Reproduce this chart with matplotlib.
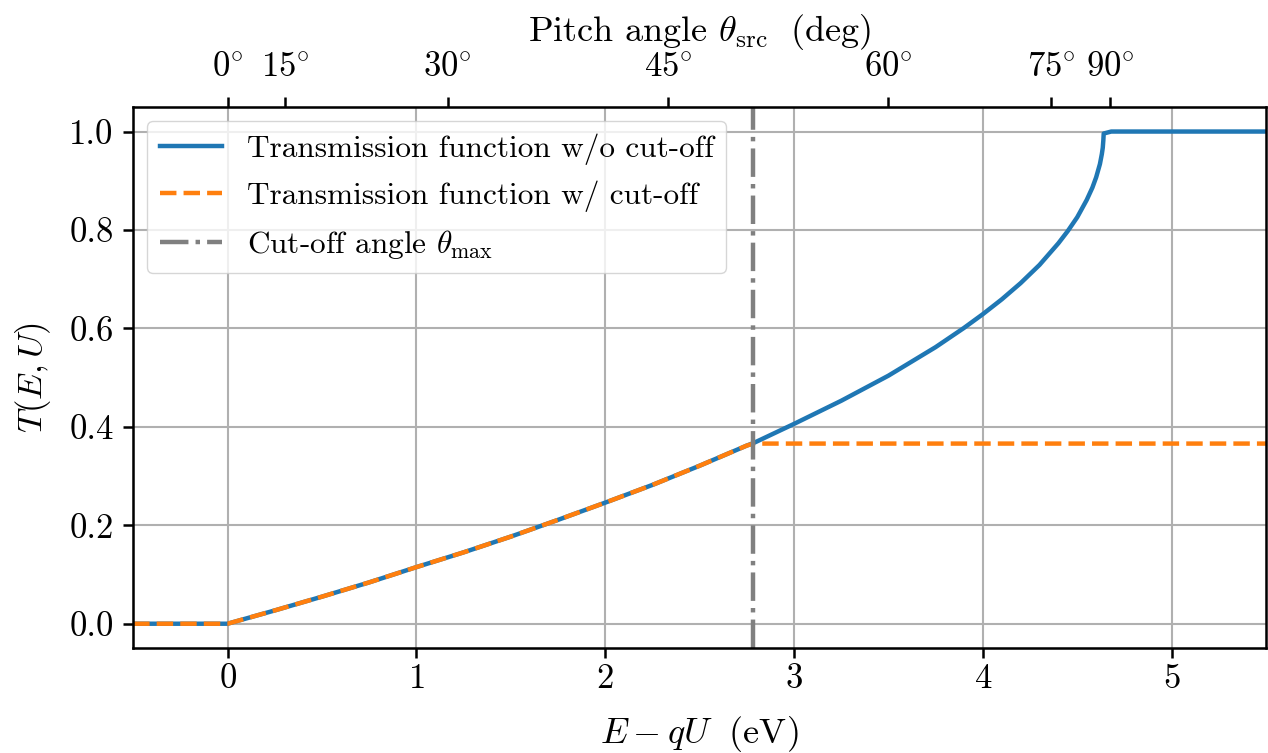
import numpy as np
import matplotlib.pyplot as plt

plt.rcParams['font.family'] = 'serif'
plt.rcParams['font.serif'] = ['cmr10']
plt.rcParams['mathtext.fontset'] = 'cm'
plt.rcParams['axes.formatter.use_mathtext'] = True
plt.rcParams['axes.unicode_minus'] = False

# Transmission function
dE = [-0.5, 0.0, 0.25, 0.5, 0.75, 1.0, 1.25, 1.5, 1.75, 2.0, 2.25, 2.5, 2.75, 2.785,
      3.0, 3.25, 3.5, 3.75, 3.9, 4.0, 4.1, 4.2, 4.3, 4.4, 4.45, 4.5, 4.55, 4.58, 4.6,
      4.62, 4.63, 4.635, 4.638, 4.64, 4.68, 5.5]
T_full = [0.0, 0.0, 0.027, 0.055, 0.084, 0.115, 0.145, 0.177, 0.211, 0.246, 0.282, 0.321, 0.362, 0.367,
          0.406, 0.453, 0.504, 0.562, 0.601, 0.629, 0.659, 0.692, 0.729, 0.773, 0.798, 0.826, 0.861, 0.886, 0.907,
          0.934, 0.954, 0.967, 0.982, 0.996, 1.0, 1.0]

# cut-off version
dE_cut = [-0.5, 0.0, 0.25, 0.5, 0.75, 1.0, 1.25, 1.5, 1.75, 2.0, 2.25, 2.5, 2.75, 2.785, 5.5]
T_cut = [0.0, 0.0, 0.027, 0.055, 0.084, 0.115, 0.145, 0.177, 0.211, 0.246, 0.282, 0.321, 0.362, 0.366, 0.366]

cutoff_dE = 2.785

# top axis: pitch angle ticks
angle_pos = [0.0, 0.306, 1.165, 2.335, 3.50, 4.363, 4.675]
angle_labels = ['0', '15', '30', '45', '60', '75', '90']

fig = plt.figure(figsize=(12.68, 7.53), dpi=100)
ax = fig.add_axes([0.105, 0.139, 0.8935, 0.719])

ax.plot(dE, T_full, color='#1f77b4', lw=3.2, label='Transmission function w/o cut-off')
ax.plot(dE_cut, T_cut, color='#ff7f0e', lw=3.2, ls='--', label='Transmission function w/ cut-off')
ax.axvline(cutoff_dE, color='gray', lw=3.2, ls='-.', label=r'Cut-off angle $\theta_{\rm max}$')

ax.set_xlim(-0.5, 5.5)
ax.set_ylim(-0.05, 1.05)
ax.set_xticks([0, 1, 2, 3, 4, 5])
ax.set_yticks([0.0, 0.2, 0.4, 0.6, 0.8, 1.0])
ax.set_yticklabels(['0.0', '0.2', '0.4', '0.6', '0.8', '1.0'])
ax.grid(True, color='#b0b0b0', lw=1.5)
ax.tick_params(labelsize=25, width=1.8, length=7)
ax.tick_params(axis='y', pad=7)
for s in ax.spines.values():
    s.set_linewidth(1.8)
ax.set_xlabel(r'$E - qU\;$ (eV)', fontsize=26, labelpad=14)
ax.set_ylabel(r'$T(E, U)$', fontsize=25, labelpad=12)
ax.legend(loc='upper left', fontsize=22.5, borderaxespad=0.45)

ax2 = ax.twiny()
ax2.set_xlim(ax.get_xlim())
ax2.set_xticks(angle_pos)
ax2.set_xticklabels([r'$%s\!^\circ$' % a for a in angle_labels])
ax2.tick_params(labelsize=25, width=1.8, length=7, pad=10)
ax2.set_xlabel(r'Pitch angle $\theta_{\rm src}\;$ (deg)', fontsize=26, labelpad=8)

fig.savefig('out.png', dpi=100)
